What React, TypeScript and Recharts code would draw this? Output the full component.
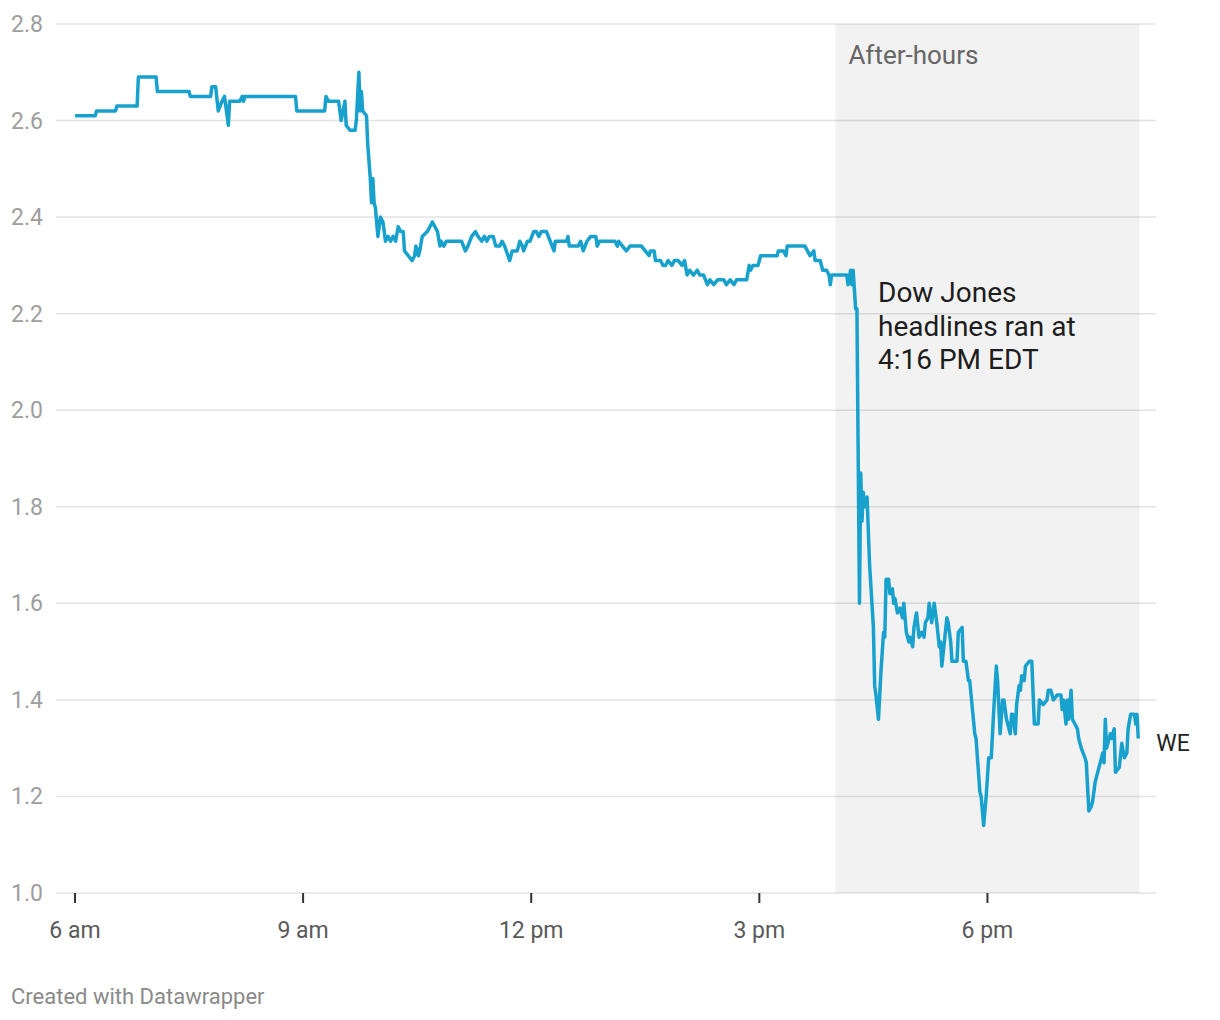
import {
  LineChart,
  Line,
  XAxis,
  YAxis,
  CartesianGrid,
  ReferenceArea,
  ReferenceDot
} from 'recharts';

// quote times (EDT), grouped by hour
const times = [
  '6:00', '6:16', '6:17', '6:32', '6:33', '6:49', '6:50',
  '7:04', '7:05', '7:30', '7:31', '7:47', '7:48', '7:51', '7:53', '7:56', '7:58',
  '8:01', '8:02', '8:10', '8:12', '8:13', '8:14', '8:54', '8:55',
  '9:17', '9:18', '9:20', '9:28', '9:30', '9:33', '9:34', '9:37', '9:41', '9:42', '9:44', '9:45', '9:46', '9:47', '9:50', '9:51', '9:53', '9:54', '9:55', '9:56', '9:57', '9:59',
  '10:01', '10:03', '10:05', '10:07', '10:09', '10:11', '10:13', '10:15', '10:17', '10:19', '10:20', '10:23', '10:26', '10:28', '10:29', '10:31', '10:32', '10:34', '10:38', '10:40', '10:42', '10:44', '10:46', '10:48', '10:49', '10:51', '10:53',
  '11:05', '11:08', '11:10', '11:13', '11:16', '11:18', '11:21', '11:23', '11:25', '11:27', '11:30', '11:32', '11:35', '11:37', '11:39', '11:43', '11:45', '11:49', '11:51', '11:53', '11:54', '11:57', '11:59',
  '12:02', '12:04', '12:06', '12:08', '12:12', '12:15', '12:18', '12:19', '12:28', '12:29', '12:30', '12:37', '12:39', '12:41', '12:44', '12:47', '12:51', '12:52', '12:54',
  '13:06', '13:08', '13:09', '13:12', '13:15', '13:18', '13:27', '13:30', '13:33', '13:34', '13:37', '13:38', '13:42', '13:44', '13:46', '13:48', '13:51', '13:53', '13:56', '13:59',
  '14:01', '14:03', '14:05', '14:08', '14:11', '14:13', '14:16', '14:19', '14:21', '14:24', '14:27', '14:32', '14:34', '14:37', '14:40', '14:42', '14:50', '14:52', '14:53', '14:55', '14:59',
  '15:01', '15:14', '15:15', '15:19', '15:21', '15:22', '15:36', '15:38', '15:40', '15:43', '15:44', '15:48', '15:50', '15:53', '15:55', '15:56', '15:57',
  '16:09', '16:10', '16:12', '16:13', '16:14', '16:16', '16:17', '16:19', '16:20', '16:21', '16:22', '16:23', '16:25', '16:27', '16:30', '16:31', '16:32', '16:34', '16:36', '16:38', '16:39', '16:40', '16:42', '16:43', '16:45', '16:46', '16:47', '16:49', '16:51', '16:53', '16:54', '16:56', '16:58', '16:59',
  '17:01', '17:02', '17:04', '17:06', '17:08', '17:10', '17:11', '17:13', '17:14', '17:16', '17:18', '17:20', '17:22', '17:23', '17:24', '17:26', '17:28', '17:29', '17:31', '17:32', '17:36', '17:37', '17:40', '17:41', '17:43', '17:45', '17:46', '17:50', '17:51', '17:54', '17:55', '17:57', '17:59',
  '18:01', '18:03', '18:05', '18:07', '18:08', '18:10', '18:12', '18:13', '18:15', '18:16', '18:18', '18:19', '18:20', '18:22', '18:23', '18:25', '18:26', '18:27', '18:29', '18:30', '18:33', '18:35', '18:37', '18:40', '18:41', '18:44', '18:47', '18:48', '18:50', '18:52', '18:55', '18:58', '18:59',
  '19:00', '19:02', '19:03', '19:04', '19:06', '19:07', '19:09', '19:11', '19:12', '19:14', '19:17', '19:18', '19:20', '19:22', '19:23', '19:25', '19:26', '19:29', '19:31', '19:32', '19:33', '19:34', '19:37', '19:38', '19:40', '19:41', '19:44', '19:46', '19:48', '19:50', '19:51', '19:53', '19:56', '19:57', '19:58', '19:59'
];

// share price, same order as times
const price = [
  2.61, 2.61, 2.62, 2.62, 2.63, 2.63, 2.69,
  2.69, 2.66, 2.66, 2.65, 2.65, 2.67, 2.67, 2.62, 2.64, 2.65,
  2.59, 2.64, 2.64, 2.65, 2.64, 2.65, 2.65, 2.62,
  2.62, 2.65, 2.64, 2.64, 2.60, 2.64, 2.59, 2.58, 2.58, 2.60, 2.70, 2.62, 2.66, 2.62, 2.61, 2.55, 2.48, 2.43, 2.48, 2.43, 2.42, 2.36,
  2.40, 2.39, 2.35, 2.36, 2.35, 2.36, 2.35, 2.38, 2.37, 2.37, 2.33, 2.32, 2.31, 2.32, 2.34, 2.32, 2.33, 2.36, 2.37, 2.38, 2.39, 2.38, 2.37, 2.34, 2.35, 2.34, 2.35,
  2.35, 2.33, 2.34, 2.36, 2.37, 2.36, 2.35, 2.36, 2.35, 2.36, 2.36, 2.34, 2.34, 2.35, 2.34, 2.31, 2.33, 2.33, 2.35, 2.34, 2.33, 2.35, 2.35,
  2.37, 2.37, 2.36, 2.37, 2.37, 2.35, 2.33, 2.35, 2.35, 2.36, 2.34, 2.34, 2.35, 2.33, 2.35, 2.36, 2.36, 2.34, 2.35,
  2.35, 2.34, 2.35, 2.34, 2.33, 2.34, 2.34, 2.33, 2.32, 2.33, 2.33, 2.31, 2.31, 2.30, 2.30, 2.31, 2.30, 2.31, 2.31, 2.30,
  2.31, 2.28, 2.29, 2.28, 2.29, 2.28, 2.28, 2.26, 2.27, 2.26, 2.27, 2.27, 2.26, 2.27, 2.26, 2.27, 2.27, 2.30, 2.29, 2.30, 2.30,
  2.32, 2.32, 2.33, 2.33, 2.32, 2.34, 2.34, 2.33, 2.32, 2.33, 2.31, 2.31, 2.29, 2.29, 2.28, 2.26, 2.28,
  2.28, 2.26, 2.29, 2.26, 2.29, 2.21, 2.21, 1.60, 1.87, 1.77, 1.83, 1.80, 1.82, 1.68, 1.55, 1.43, 1.41, 1.36, 1.46, 1.54, 1.53, 1.65, 1.65, 1.62, 1.63, 1.60, 1.61, 1.58, 1.59, 1.57, 1.60, 1.54, 1.52, 1.53,
  1.51, 1.55, 1.58, 1.53, 1.54, 1.53, 1.56, 1.57, 1.60, 1.56, 1.60, 1.56, 1.51, 1.52, 1.47, 1.52, 1.57, 1.56, 1.52, 1.48, 1.48, 1.54, 1.55, 1.48, 1.48, 1.44, 1.44, 1.33, 1.32, 1.21, 1.20, 1.14, 1.20,
  1.28, 1.28, 1.38, 1.47, 1.44, 1.33, 1.40, 1.40, 1.36, 1.35, 1.33, 1.37, 1.37, 1.33, 1.39, 1.43, 1.42, 1.45, 1.44, 1.47, 1.48, 1.48, 1.35, 1.35, 1.40, 1.39, 1.40, 1.42, 1.42, 1.40, 1.41, 1.41, 1.38,
  1.40, 1.35, 1.40, 1.36, 1.42, 1.36, 1.35, 1.34, 1.32, 1.30, 1.28, 1.27, 1.17, 1.18, 1.19, 1.23, 1.24, 1.27, 1.29, 1.27, 1.36, 1.30, 1.33, 1.32, 1.34, 1.25, 1.26, 1.31, 1.28, 1.29, 1.34, 1.37, 1.37, 1.35, 1.37, 1.32
];

const xTickTimes = ['6:00', '9:00', '12:00', '15:00', '18:00'];
const xTickLabels = ['6 am', '9 am', '12 pm', '3 pm', '6 pm'];
const yTicks = [1.0, 1.2, 1.4, 1.6, 1.8, 2.0, 2.2, 2.4, 2.6, 2.8];
const afterHoursStart = '16:00';
const afterHoursEnd = '20:00';
const seriesName = 'WE';

const toMinutes = (t: string) => {
  const [h, m] = t.split(':').map(Number);
  return h * 60 + m;
};

const chartData = times
  .slice(0, Math.min(times.length, price.length))
  .map((t, i) => ({ minute: toMinutes(t), price: price[i] }));

const xTicks = xTickTimes.map(toMinutes);
const last = chartData[chartData.length - 1];

function YTick({ y, payload }: any) {
  return (
    <text x={43} y={y} dy="0.35em" textAnchor="end" fill="#9e9e9e" fontSize={23}>
      {Number(payload.value).toFixed(1)}
    </text>
  );
}

function XTick({ x, y, payload }: any) {
  const idx = xTicks.indexOf(payload.value);
  return (
    <text x={x} y={y + 27} dy="0.35em" textAnchor="middle" fill="#5a5a5a" fontSize={23}>
      {xTickLabels[idx]}
    </text>
  );
}

const renderAfterHours = (props: any) => {
  const vb = props.viewBox || {};
  return (
    <text x={vb.x + 13} y={vb.y + 31} dy="0.35em" fill="#666" fontSize={26}>
      After-hours
    </text>
  );
};

const renderSeriesLabel = (props: any) => {
  const vb = props.viewBox || {};
  return (
    <text x={vb.x + 18} y={vb.y + 4} dy="0.35em" fill="#222" fontSize={23}>
      {seriesName}
    </text>
  );
};

export default function App() {
  return (
    <div
      style={{
        position: 'absolute',
        left: 0,
        top: 0,
        width: 1220,
        height: 1020,
        background: '#fff',
        fontFamily: 'Roboto, sans-serif'
      }}
    >
      <LineChart
        width={1220}
        height={960}
        data={chartData}
        margin={{ top: 24, right: 64, bottom: 37, left: 0 }}
        style={{ fontFamily: 'Roboto, sans-serif' }}
      >
        <CartesianGrid vertical={false} stroke="#e3e3e3" strokeWidth={1.5} />
        {/* translucent so the gridlines still show through the band */}
        <ReferenceArea
          x1={toMinutes(afterHoursStart)}
          x2={toMinutes(afterHoursEnd)}
          y1={1.0}
          y2={2.8}
          fill="#000"
          fillOpacity={0.05}
          stroke="none"
          label={renderAfterHours}
        />
        <XAxis
          type="number"
          dataKey="minute"
          domain={[345, 1213]}
          ticks={xTicks}
          axisLine={false}
          tickLine={{ stroke: '#333', strokeWidth: 2 }}
          tickSize={10}
          tickMargin={0}
          tick={<XTick />}
        />
        <YAxis
          domain={[1.0, 2.8]}
          ticks={yTicks}
          width={56}
          axisLine={false}
          tickLine={false}
          tick={<YTick />}
        />
        <Line
          type="linear"
          dataKey="price"
          stroke="#18a1cd"
          strokeWidth={3.5}
          strokeLinejoin="round"
          dot={false}
          isAnimationActive={false}
        />
        <ReferenceDot
          x={last.minute}
          y={last.price}
          r={0}
          fill="none"
          stroke="none"
          label={renderSeriesLabel}
        />
      </LineChart>
      <div
        style={{
          position: 'absolute',
          left: 878,
          top: 276,
          fontSize: 28,
          lineHeight: '33.5px',
          color: '#1d1d1d'
        }}
      >
        Dow Jones
        <br />
        headlines ran at
        <br />
        4:16 PM EDT
      </div>
      <div
        style={{
          position: 'absolute',
          left: 11,
          top: 984,
          fontSize: 22,
          lineHeight: '26px',
          color: '#8a8a8a'
        }}
      >
        Created with Datawrapper
      </div>
    </div>
  );
}
